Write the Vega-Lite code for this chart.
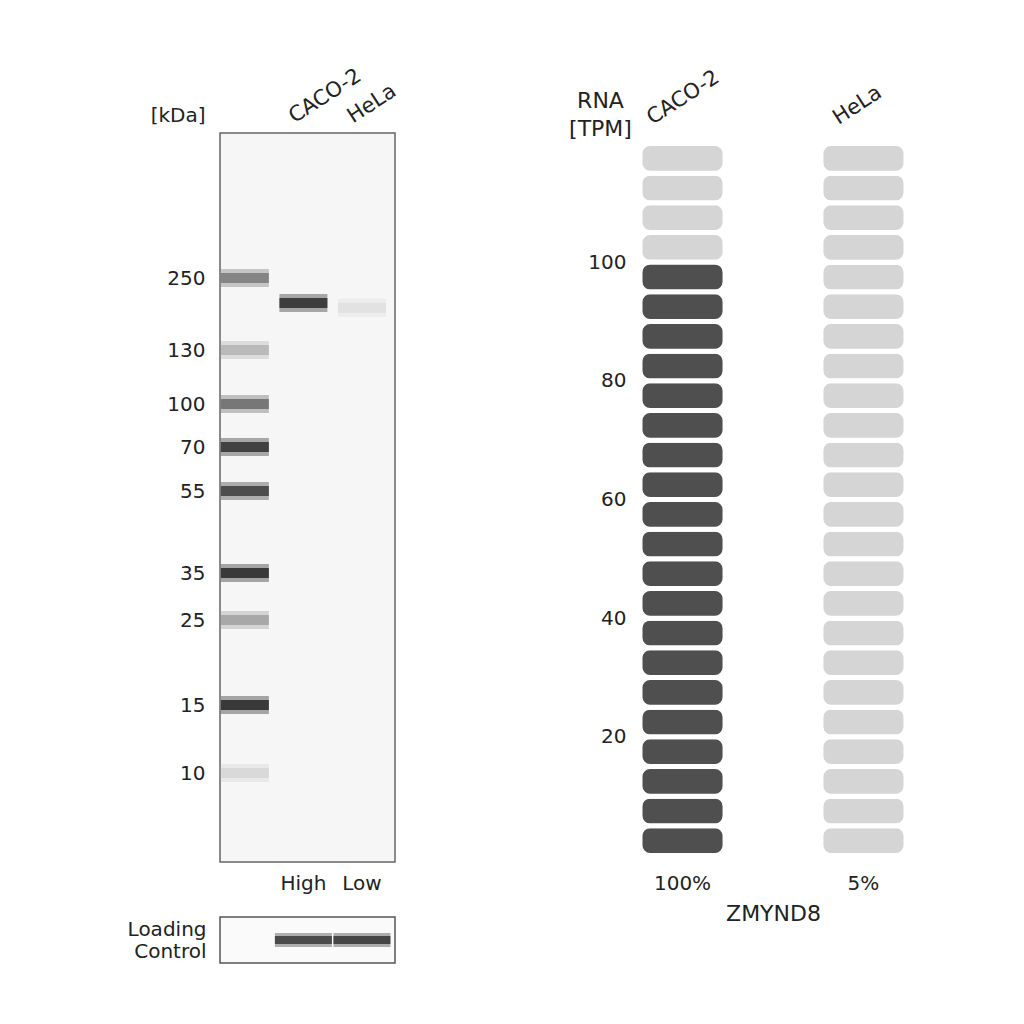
{
  "$schema": "https://vega.github.io/schema/vega-lite/v6.json",
  "background": "white",
  "padding": {"left": 126, "top": 63, "right": 0, "bottom": 0},
  "config": {
    "font": "DejaVu Sans",
    "view": {"stroke": null},
    "axis": {"labelFont": "DejaVu Sans", "titleFont": "DejaVu Sans", "labelColor": "#222", "titleColor": "#222", "titleFontWeight": "normal", "labelFontSize": 20, "titleFontSize": 20, "grid": false, "ticks": false, "domain": false}
  },
  "datasets": {
    "blot": [
      {"lane": "M", "kDa": 250, "intensity": 0.55},
      {"lane": "M", "kDa": 130, "intensity": 0.3},
      {"lane": "M", "kDa": 100, "intensity": 0.62},
      {"lane": "M", "kDa": 70, "intensity": 0.93},
      {"lane": "M", "kDa": 55, "intensity": 0.86},
      {"lane": "M", "kDa": 35, "intensity": 0.97},
      {"lane": "M", "kDa": 25, "intensity": 0.38},
      {"lane": "M", "kDa": 15, "intensity": 0.97},
      {"lane": "M", "kDa": 10, "intensity": 0.16},
      {"lane": "CACO-2", "kDa": 199, "intensity": 0.95},
      {"lane": "HeLa", "kDa": 191, "intensity": 0.12}
    ],
    "loading": [
      {"lane": "CACO-2", "panel": "Loading Control", "intensity": 0.88},
      {"lane": "HeLa", "panel": "Loading Control", "intensity": 0.9}
    ],
    "rna": [
      {"sample": "CACO-2", "start": 0, "end": 5, "filled": "yes"},
      {"sample": "CACO-2", "start": 5, "end": 10, "filled": "yes"},
      {"sample": "CACO-2", "start": 10, "end": 15, "filled": "yes"},
      {"sample": "CACO-2", "start": 15, "end": 20, "filled": "yes"},
      {"sample": "CACO-2", "start": 20, "end": 25, "filled": "yes"},
      {"sample": "CACO-2", "start": 25, "end": 30, "filled": "yes"},
      {"sample": "CACO-2", "start": 30, "end": 35, "filled": "yes"},
      {"sample": "CACO-2", "start": 35, "end": 40, "filled": "yes"},
      {"sample": "CACO-2", "start": 40, "end": 45, "filled": "yes"},
      {"sample": "CACO-2", "start": 45, "end": 50, "filled": "yes"},
      {"sample": "CACO-2", "start": 50, "end": 55, "filled": "yes"},
      {"sample": "CACO-2", "start": 55, "end": 60, "filled": "yes"},
      {"sample": "CACO-2", "start": 60, "end": 65, "filled": "yes"},
      {"sample": "CACO-2", "start": 65, "end": 70, "filled": "yes"},
      {"sample": "CACO-2", "start": 70, "end": 75, "filled": "yes"},
      {"sample": "CACO-2", "start": 75, "end": 80, "filled": "yes"},
      {"sample": "CACO-2", "start": 80, "end": 85, "filled": "yes"},
      {"sample": "CACO-2", "start": 85, "end": 90, "filled": "yes"},
      {"sample": "CACO-2", "start": 90, "end": 95, "filled": "yes"},
      {"sample": "CACO-2", "start": 95, "end": 100, "filled": "yes"},
      {"sample": "CACO-2", "start": 100, "end": 105, "filled": "no"},
      {"sample": "CACO-2", "start": 105, "end": 110, "filled": "no"},
      {"sample": "CACO-2", "start": 110, "end": 115, "filled": "no"},
      {"sample": "CACO-2", "start": 115, "end": 120, "filled": "no"},
      {"sample": "HeLa", "start": 0, "end": 5, "filled": "no"},
      {"sample": "HeLa", "start": 5, "end": 10, "filled": "no"},
      {"sample": "HeLa", "start": 10, "end": 15, "filled": "no"},
      {"sample": "HeLa", "start": 15, "end": 20, "filled": "no"},
      {"sample": "HeLa", "start": 20, "end": 25, "filled": "no"},
      {"sample": "HeLa", "start": 25, "end": 30, "filled": "no"},
      {"sample": "HeLa", "start": 30, "end": 35, "filled": "no"},
      {"sample": "HeLa", "start": 35, "end": 40, "filled": "no"},
      {"sample": "HeLa", "start": 40, "end": 45, "filled": "no"},
      {"sample": "HeLa", "start": 45, "end": 50, "filled": "no"},
      {"sample": "HeLa", "start": 50, "end": 55, "filled": "no"},
      {"sample": "HeLa", "start": 55, "end": 60, "filled": "no"},
      {"sample": "HeLa", "start": 60, "end": 65, "filled": "no"},
      {"sample": "HeLa", "start": 65, "end": 70, "filled": "no"},
      {"sample": "HeLa", "start": 70, "end": 75, "filled": "no"},
      {"sample": "HeLa", "start": 75, "end": 80, "filled": "no"},
      {"sample": "HeLa", "start": 80, "end": 85, "filled": "no"},
      {"sample": "HeLa", "start": 85, "end": 90, "filled": "no"},
      {"sample": "HeLa", "start": 90, "end": 95, "filled": "no"},
      {"sample": "HeLa", "start": 95, "end": 100, "filled": "no"},
      {"sample": "HeLa", "start": 100, "end": 105, "filled": "no"},
      {"sample": "HeLa", "start": 105, "end": 110, "filled": "no"},
      {"sample": "HeLa", "start": 110, "end": 115, "filled": "no"},
      {"sample": "HeLa", "start": 115, "end": 120, "filled": "no"}
    ]
  },
  "spacing": 167,
  "hconcat": [
    {
      "spacing": 22,
      "vconcat": [
        {
          "width": 175,
          "height": 729,
          "view": {"stroke": "#666", "strokeWidth": 1.5, "fill": "#f6f6f6"},
          "data": {"name": "blot"},
          "resolve": {"axis": {"x": "independent", "y": "independent"}},
          "layer": [
            {
              "mark": {"type": "tick", "orient": "horizontal", "thickness": 18, "opacity": 0.35},
              "encoding": {
                "x": {"field": "lane", "type": "nominal", "scale": {"domain": ["M", "CACO-2", "HeLa"], "paddingInner": 0.15, "paddingOuter": 0.07, "align": 0},
                  "axis": {"orient": "top", "labelAngle": -33, "labelAlign": "left", "labelBaseline": "alphabetic", "labelOffset": -9, "labelPadding": 10, "labelFontSize": 21, "labelExpr": "datum.value == 'M' ? '' : datum.value", "title": null}},
                "y": {"field": "kDa", "type": "quantitative", "scale": {"type": "log", "domain": [933, 250, 130, 100, 70, 55, 35, 25, 15, 10, 5.9], "range": [0, 145, 217, 271, 314, 358, 440, 487, 572, 640, 729], "nice": false}, "axis": null},
                "color": {"field": "intensity", "type": "quantitative", "scale": {"domain": [0, 1], "range": ["#ffffff", "#000000"]}, "legend": null},
                "size": {"value": 48}
              }
            },
            {
              "mark": {"type": "tick", "orient": "horizontal", "thickness": 10},
              "encoding": {
                "x": {"field": "lane", "type": "nominal", "scale": {"domain": ["M", "CACO-2", "HeLa"], "paddingInner": 0.15, "paddingOuter": 0.07, "align": 0},
                  "axis": {"orient": "bottom", "labelAngle": 0, "labelPadding": 11, "labelExpr": "datum.value == 'CACO-2' ? 'High' : datum.value == 'HeLa' ? 'Low' : ''", "title": null}},
                "y": {"field": "kDa", "type": "quantitative", "scale": {"type": "log", "domain": [933, 250, 130, 100, 70, 55, 35, 25, 15, 10, 5.9], "range": [0, 145, 217, 271, 314, 358, 440, 487, 572, 640, 729], "nice": false},
                  "axis": {"orient": "left", "values": [250, 130, 100, 70, 55, 35, 25, 15, 10], "format": "d", "labelOverlap": false, "labelPadding": 15, "title": "[kDa]", "titleAngle": 0, "titleAlign": "right", "titleBaseline": "middle", "titleX": -15, "titleY": -18}},
                "color": {"field": "intensity", "type": "quantitative", "scale": {"domain": [0, 1], "range": ["#ffffff", "#000000"]}, "legend": null},
                "size": {"value": 48}
              }
            }
          ]
        },
        {
          "width": 175,
          "height": 46,
          "view": {"stroke": "#555", "strokeWidth": 1.5, "fill": "#fafafa"},
          "data": {"name": "loading"},
          "layer": [
            {
              "mark": {"type": "tick", "orient": "horizontal", "thickness": 14, "opacity": 0.35},
              "encoding": {
                "x": {"field": "lane", "type": "nominal", "scale": {"domain": ["M", "CACO-2", "HeLa"], "paddingInner": 0.15, "paddingOuter": 0.07, "align": 0}, "axis": null},
                "y": {"field": "panel", "type": "nominal", "axis": {"labels": false, "title": ["Loading", "Control"], "titleAngle": 0, "titleAlign": "right", "titleBaseline": "middle", "titleX": -14, "titleY": 12, "titleLineHeight": 22}},
                "color": {"field": "intensity", "type": "quantitative", "scale": {"domain": [0, 1], "range": ["#ffffff", "#000000"]}, "legend": null},
                "size": {"value": 57}
              }
            },
            {
              "mark": {"type": "tick", "orient": "horizontal", "thickness": 8},
              "encoding": {
                "x": {"field": "lane", "type": "nominal", "scale": {"domain": ["M", "CACO-2", "HeLa"], "paddingInner": 0.15, "paddingOuter": 0.07, "align": 0}, "axis": null},
                "y": {"field": "panel", "type": "nominal"},
                "color": {"field": "intensity", "type": "quantitative", "scale": {"domain": [0, 1], "range": ["#ffffff", "#000000"]}, "legend": null},
                "size": {"value": 57}
              }
            }
          ]
        }
      ]
    },
    {
      "width": 266,
      "height": 722.5,
      "data": {"name": "rna"},
      "resolve": {"axis": {"x": "independent", "y": "independent"}},
      "layer": [
        {
          "transform": [{"filter": {"field": "filled", "equal": "no"}}],
          "mark": {"type": "rect", "cornerRadius": 10, "stroke": "white", "strokeWidth": 5},
          "encoding": {
            "x": {"field": "sample", "type": "nominal", "scale": {"domain": ["CACO-2", "HeLa"], "paddingInner": 0.53, "paddingOuter": 0, "align": 0},
              "axis": {"orient": "top", "labelAngle": -33, "labelAlign": "left", "labelBaseline": "alphabetic", "labelOffset": {"condition": {"test": "datum.value == 'HeLa'", "value": -25}, "value": -30}, "labelPadding": 8.5, "labelFontSize": 21, "title": null}},
            "y": {"field": "start", "type": "quantitative", "scale": {"domain": [0, 121.77], "nice": false},
              "axis": {"orient": "left", "values": [20, 40, 60, 80, 100], "labelPadding": 14, "title": ["RNA", "[TPM]"], "titleFontSize": 22, "titleAngle": 0, "titleAlign": "center", "titleBaseline": "top", "titleX": -40, "titleY": -43, "titleLineHeight": 28}},
            "y2": {"field": "end"},
            "color": {"field": "filled", "type": "nominal", "scale": {"domain": ["yes", "no"], "range": ["#4f4f4f", "#d5d5d5"]}, "legend": null}
          }
        },
        {
          "transform": [{"filter": {"field": "filled", "equal": "yes"}}],
          "mark": {"type": "rect", "cornerRadius": 10, "stroke": "white", "strokeWidth": 5},
          "encoding": {
            "x": {"field": "sample", "type": "nominal", "scale": {"domain": ["CACO-2", "HeLa"], "paddingInner": 0.53, "paddingOuter": 0, "align": 0},
              "axis": {"orient": "bottom", "labelAngle": 0, "labelPadding": 18, "labelExpr": "datum.value == 'CACO-2' ? '100%' : '5%'", "title": "ZMYND8", "titleFontSize": 22, "titlePadding": 10}},
            "y": {"field": "start", "type": "quantitative", "scale": {"domain": [0, 121.77], "nice": false}, "axis": null},
            "y2": {"field": "end"},
            "color": {"field": "filled", "type": "nominal", "scale": {"domain": ["yes", "no"], "range": ["#4f4f4f", "#d5d5d5"]}, "legend": null}
          }
        }
      ]
    }
  ]
}
